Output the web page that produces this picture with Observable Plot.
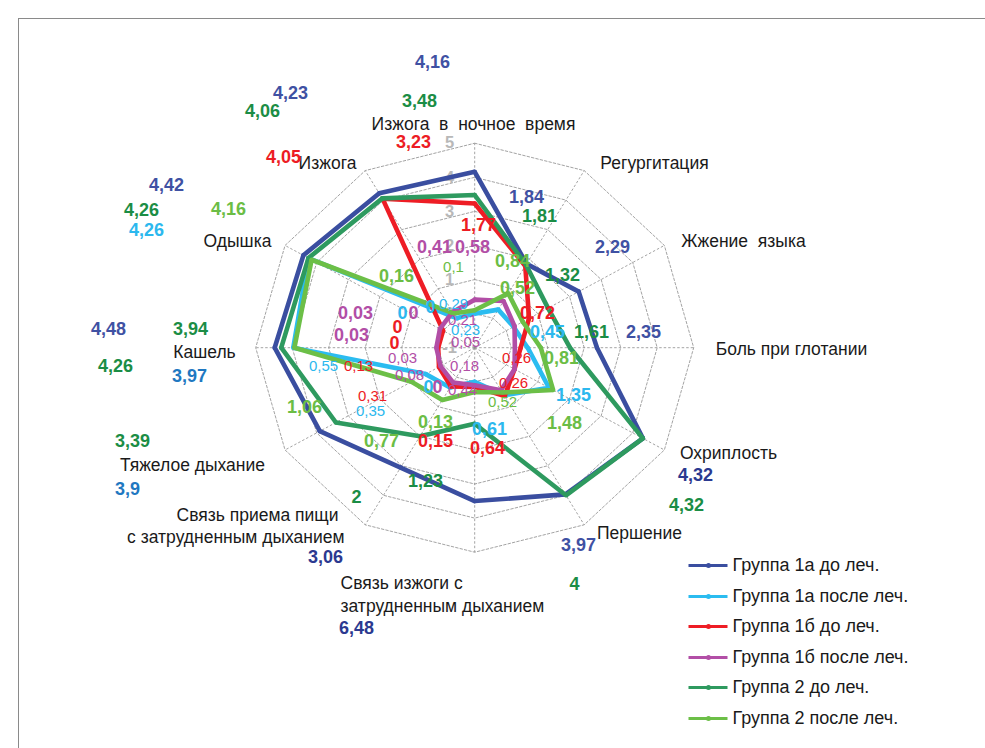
<!DOCTYPE html>
<html><head><meta charset="utf-8">
<script src="https://cdn.jsdelivr.net/npm/d3@7"></script>
<script src="https://cdn.jsdelivr.net/npm/@observablehq/plot@0.6"></script>
<style>
body{margin:0;background:#fff;}
#wrap{position:relative;width:985px;height:748px;overflow:hidden;}
#frame{position:absolute;left:18px;top:18px;width:1200px;height:1000px;border:1px solid #8a8a8a;}
#chart{position:absolute;left:0;top:0;}
</style></head><body><div id="wrap"><div id="frame"></div><div id="chart"></div></div>
<script>
// ---------- data ----------
const axes = ["Изжога в ночное время","Регургитация","Жжение языка","Боль при глотании","Охриплость","Першение",
  "Связь изжоги с затрудненным дыханием","Связь приема пищи с затрудненным дыханием","Тяжелое дыхание","Кашель","Одышка","Изжога"];
const seriesNames = ["Группа 1а до леч.","Группа 1а после леч.","Группа 1б до леч.","Группа 1б после леч.","Группа 2 до леч.","Группа 2 после леч."];
const g1aBefore = [4.16, 1.84, 2.29, 2.35, 4.32, 3.97, 3.5, 3.06, 3.9, 4.48, 4.42, 4.23];
const g1aAfter  = [0, 0.29, 0.23, 0.45, 1.35, 0.61, 0, 0.35, 0.55, 3.97, 4.26, 0];
const g1bBefore = [3.23, 1.77, 0.72, 0.26, 0.26, 0.64, 0.15, 0.31, 0.13, 0, 0, 4.05];
const g1bAfter  = [0.41, 0.58, 0.26, 0.1, 0.26, 0.44, 0.1, 0.18, 0.08, 0.05, 0.1, 0.21];
const g2Before  = [3.48, 1.81, 1.32, 1.61, 4.32, 4.0, 1.23, 2.0, 3.39, 4.3, 4.26, 4.06];
const g2After   = [0.1, 0.84, 0.52, 0.81, 1.48, 0.52, 0.3, 0.77, 1.0, 3.94, 4.16, 0.16];
const seriesValues = [g1aBefore, g1aAfter, g1bBefore, g1bAfter, g2Before, g2After];
const tickValues = [-1, 0, 1, 2, 3, 4, 5];

// value annotations as printed on the chart: text and colour key
const labelTexts = ["4,16","4,23","4,06","3,48","3,23","4,05","4,42","4,26","4,16","4,26","1,84","1,81","1,77","2,29",
  "0,41","0,58","0,1","0,84","0,16","1,32","0,52","0,29","0","0,72","0,03","0","0","0","0,03","0",
  "0,21","0,23","0,05","0,45","1,61","2,35","4,48","3,94","4,26","3,97","0,03","0,18","0,26","0,81",
  "0,55","0,13","0,08","0,26","0","0","0,44","1,35","0,52","0,31","0,35","1,06","0,13","0,61","1,48",
  "3,39","0,77","0,15","0,64","4,32","1,23","3,9","2","4,32","3,97","3,06","4","6,48"];
const labelColors = ["blue","blue","dg","dg","red","red","blue","dg","lg","cyan","blue","dg","red","blue",
  "mag","mag","lg","lg","lg","dg","lg","cyan","cyan","red","mag","cyan","mag","red","mag","red",
  "mag","cyan","mag","cyan","dg","blue","blue","dg","dg","mb","mag","mag","red","lg",
  "cyan","red","mag","red","cyan","mag","mag","cyan","lg","red","cyan","lg","lg","cyan","lg",
  "dg","lg","red","red","navy","dg","mb","dg","dg","blue","navy","dg","navy"];

// ---------- layout (pixel positions of annotations) ----------
const labelLayout = [[432,62,1],[290,93,1],[262,111,1],[419,101,1],[413,142,1],[283,157,1],[166,185,1],[141,210,1],[228,209,1],[146,230,1],
  [526,197,1],[539,216,1],[478,225,1],[612,247,1],
  [434,247,1],[472,247,1],[453,267,0],[512,261,1],[396,276,1],[562,275,1],[517,288,1],[453,304,0],[430,307,1],[537,313,1],
  [355,313,1],[402,313,1],[413,313,1],[397,327,1],[351,335,1],[394,343,1],
  [462,320,0],[465,330,0],[465,342,0],[547,332,1],[591,332,1],[643,332,1],[108,329,1],[190,329,1],[115,366,1],[189,376,1],
  [402,358,0],[464,366,0],[516,358,0],[561,358,1],
  [323,366,0],[358,366,0],[409,375,0],[513,383,0],[428,387,1],[437,387,1],[462,390,0],[573,395,1],[502,402,0],[372,396,0],[370,411,0],
  [304,407,1],[435,422,1],[489,429,1],[564,423,1],
  [132,441,1],[381,441,1],[435,441,1],[487,448,1],[695,475,1],[425,481,1],[127,489,1],[356,497,1],[686,505,1],
  [578,545,1],[325,557,1],[574,584,1],[356,628,1]];
// axis names: [text, x, y, anchor]
const axisLayout = [["Изжога  в  ночное  время",473,124,"middle"],["Регургитация",654,163,"middle"],["Жжение  языка",743,241,"middle"],
  ["Боль при глотании",791,349,"middle"],["Охриплость",728,453,"middle"],["Першение",639,533,"middle"],
  ["Связь изжоги с",340,583,"start"],["затрудненным дыханием",340,606,"start"],
  ["Связь приема пищи",338,515,"end"],["с затрудненным дыханием",344,537,"end"],
  ["Тяжелое дыхание",192,465,"middle"],["Кашель",204,352,"middle"],["Одышка",237,241,"middle"],["Изжога",327,163,"middle"]];
const legendRows = [565, 596, 626, 657, 687, 718];

const palette = {blue:"#3f51a3", navy:"#2b3990", mb:"#1f78c1", dg:"#1b8d45", lg:"#6bbd45", cyan:"#2cb8ee", red:"#ed1c24", mag:"#b24ea6"};
const lineColors = ["#3a4ea0","#2bbcf0","#ee1d25","#b24ea6","#2e9a5f","#6cbf47"];

// ---------- geometry ----------
const CX = 474.2, CY = 347.2, RX = 219, RY = 204.5;
const rMax = tickValues[tickValues.length-1] - tickValues[0];
const N = axes.length;
const ang = i => i * 2 * Math.PI / N;
const polar = (i, v) => { const r = v - tickValues[0]; return {x: r*Math.sin(ang(i)), y: r*Math.cos(ang(i))}; };
const ux = px => (px - CX) / (RX / rMax);
const uy = py => (CY - py) / (RY / rMax);

const seriesPts = [];
seriesValues.forEach((vals, s) => vals.forEach((v, i) => seriesPts.push({s, i, ...polar(i, v)})));
const ringPts = [];
tickValues.slice(1).forEach(t => axes.forEach((a, i) => ringPts.push({t, ...polar(i, t)})));
const spokes = axes.map((a, i) => ({i, ...polar(i, tickValues[tickValues.length-1])}));
const tickLbl = tickValues.map(t => ({t, x: ux(449), y: polar(0, t).y}));

const vlabels = labelTexts.map((t, k) => ({t, c: palette[labelColors[k]], x: ux(labelLayout[k][0]), y: uy(labelLayout[k][1]), b: labelLayout[k][2]}));
const alabels = axisLayout.map(d => ({t: d[0], x: ux(d[1]), y: uy(d[2]), a: d[3]}));
const legend = seriesNames.map((n, s) => ({n, s, y: uy(legendRows[s]), x1: ux(688), x2: ux(727), xm: ux(708), xt: ux(732)}));

const font = "'Liberation Sans', Arial, sans-serif";
const marks = [
  Plot.link(spokes, {x1: 0, y1: 0, x2: "x", y2: "y", stroke: "#8c8c8c", strokeWidth: 0.8, strokeDasharray: "2.5,2"}),
  Plot.line(ringPts, {x: "x", y: "y", z: "t", curve: "linear-closed", stroke: "#8c8c8c", strokeWidth: 0.8, strokeDasharray: "2.5,2"}),
  Plot.text(tickLbl, {x: "x", y: "y", text: d => String(d.t), fill: "#b8b8b8", fontSize: 16.5, fontWeight: "bold"}),
];
seriesValues.forEach((vals, s) => {
  const pts = seriesPts.filter(d => d.s === s);
  marks.push(Plot.line(pts, {x: "x", y: "y", curve: "linear-closed", stroke: lineColors[s], strokeWidth: 4.6, strokeLinejoin: "miter"}));
  marks.push(Plot.dot(pts, {x: "x", y: "y", r: 2.3, fill: lineColors[s]}));
});
marks.push(
  Plot.text(alabels.filter(d => d.a === "middle"), {x: "x", y: "y", text: "t", fill: "#1a1a1a", fontSize: 17.5, textAnchor: "middle"}),
  Plot.text(alabels.filter(d => d.a === "start"), {x: "x", y: "y", text: "t", fill: "#1a1a1a", fontSize: 17.5, textAnchor: "start"}),
  Plot.text(alabels.filter(d => d.a === "end"), {x: "x", y: "y", text: "t", fill: "#1a1a1a", fontSize: 17.5, textAnchor: "end"}),
  Plot.text(vlabels.filter(d => d.b === 1), {x: "x", y: "y", text: "t", fill: "c", fontSize: 18, fontWeight: "bold"}),
  Plot.text(vlabels.filter(d => d.b === 0), {x: "x", y: "y", text: "t", fill: "c", fontSize: 15}),
  Plot.link(legend, {x1: "x1", x2: "x2", y1: "y", y2: "y", stroke: d => lineColors[d.s], strokeWidth: 3.2}),
  Plot.dot(legend, {x: "xm", y: "y", r: 2.5, fill: d => lineColors[d.s]}),
  Plot.text(legend, {x: "xt", y: "y", text: "n", textAnchor: "start", fill: "#1a1a1a", fontSize: 18})
);

const chart = Plot.plot({
  width: 985, height: 748,
  x: {domain: [-rMax, rMax], range: [CX - RX, CX + RX], axis: null},
  y: {domain: [-rMax, rMax], range: [CY + RY, CY - RY], axis: null},
  color: {type: "identity"},
  style: {fontFamily: font, background: "transparent", overflow: "visible"},
  marks
});
document.getElementById("chart").appendChild(chart);
</script>
</body></html>
